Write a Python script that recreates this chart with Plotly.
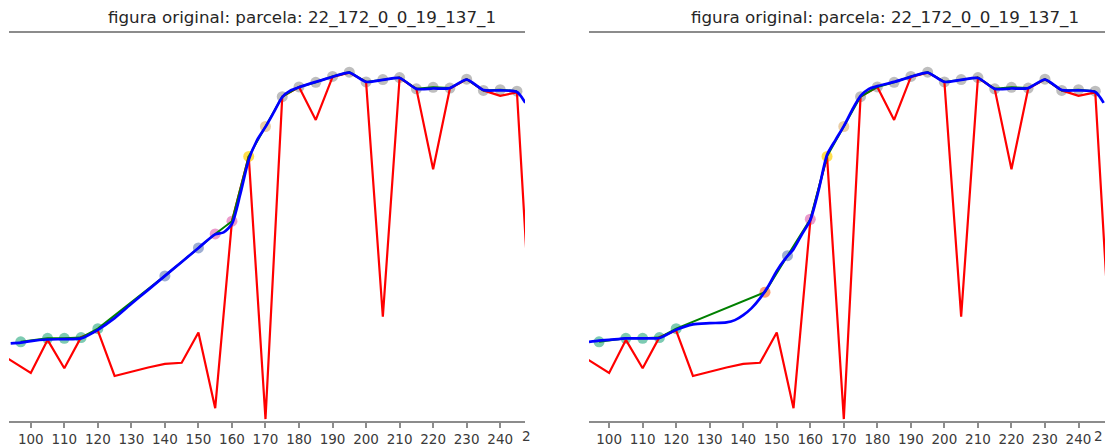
import plotly.graph_objects as go

# ---------------- data ----------------
title_text = "figura original: parcela: 22_172_0_0_19_137_1"

# original series (red) - shared by both panels
red_x = [90, 100, 105, 110, 115, 120, 125, 130, 135, 140, 145, 150, 155, 160, 165, 170,
         175, 180, 185, 190, 195, 200, 205, 210, 215, 220, 225, 230, 235, 240, 245, 250]
red_y = [0.178, 0.124, 0.209, 0.136, 0.216, 0.233, 0.116, 0.127, 0.138, 0.147, 0.150, 0.228,
         0.033, 0.515, 0.682, 0.005, 0.836, 0.861, 0.776, 0.887, 0.898, 0.874, 0.269, 0.884,
         0.856, 0.649, 0.857, 0.881, 0.852, 0.838, 0.847, 0.111]

# valid points (dots + green line), left panel
left_pts_x = [97, 105, 110, 115, 120, 140, 150, 155, 160, 165, 170, 175, 180, 185, 190,
              195, 200, 205, 210, 215, 220, 225, 230, 235, 240, 245]
left_pts_y = [0.204, 0.213, 0.213, 0.215, 0.238, 0.374, 0.446, 0.482, 0.515, 0.682, 0.759,
              0.836, 0.861, 0.873, 0.888, 0.899, 0.874, 0.880, 0.885, 0.856, 0.860, 0.858,
              0.881, 0.852, 0.854, 0.850]
left_pts_cls = ["a", "a", "a", "a", "a", "b", "b", "c", "c", "d", "e", "f", "f", "f", "f",
                "f", "f", "f", "f", "f", "f", "f", "f", "f", "f", "f"]

# valid points (dots + green line), right panel
right_pts_x = [97, 105, 110, 115, 120, 146.5, 153.2, 160, 165, 170, 175, 180, 185, 190,
               195, 200, 205, 210, 215, 220, 225, 230, 235, 240, 245]
right_pts_y = [0.204, 0.213, 0.213, 0.215, 0.238, 0.332, 0.426, 0.520, 0.682, 0.759, 0.836,
               0.861, 0.873, 0.888, 0.899, 0.874, 0.880, 0.885, 0.856, 0.860, 0.858, 0.881,
               0.852, 0.854, 0.850]
right_pts_cls = ["a", "a", "a", "a", "a", "g", "b", "c", "d", "e", "f", "f", "f", "f", "f",
                 "f", "f", "f", "f", "f", "f", "f", "f", "f", "f"]

# smoothed curves (blue)
left_blue_x = [94, 97, 100, 105, 110, 115, 120, 125, 130, 135, 140, 145, 150, 155, 157.5, 160,
               162.5, 165, 167.5, 170, 172.5, 175, 177.5, 180, 185, 190, 195, 200, 205, 210,
               215, 220, 225, 230, 235, 240, 245, 247.5]
left_blue_y = [0.200, 0.202, 0.206, 0.210, 0.211, 0.213, 0.235, 0.265, 0.302, 0.338, 0.374,
               0.410, 0.446, 0.481, 0.486, 0.508, 0.585, 0.673, 0.724, 0.758, 0.796, 0.835,
               0.852, 0.860, 0.874, 0.887, 0.898, 0.874, 0.879, 0.884, 0.856, 0.857, 0.858,
               0.880, 0.853, 0.852, 0.848, 0.820]

right_blue_x = [94, 97, 100, 105, 110, 115, 120, 125, 130, 135, 137.5, 140, 142.5, 145, 147.5,
                150, 152.5, 155, 157.5, 160, 162.5, 165, 167.5, 170, 172.5, 175, 177.5, 180,
                185, 190, 195, 200, 205, 210, 215, 220, 225, 230, 235, 240, 245, 247.5]
right_blue_y = [0.204, 0.207, 0.209, 0.213, 0.213, 0.214, 0.235, 0.249, 0.252, 0.254, 0.260,
                0.273, 0.291, 0.316, 0.348, 0.387, 0.418, 0.443, 0.481, 0.518, 0.595, 0.686,
                0.724, 0.760, 0.802, 0.838, 0.856, 0.863, 0.874, 0.887, 0.898, 0.874, 0.879,
                0.884, 0.856, 0.857, 0.858, 0.880, 0.853, 0.852, 0.848, 0.820]

tick_vals = list(range(100, 250, 10))

class_colors = {"a": "#66c2a5", "b": "#8da0cb", "c": "#e78ac3", "d": "#ffd92f",
                "e": "#e5c494", "f": "#b3b3b3", "g": "#fc8d62"}

# ---------------- figure ----------------
fig = go.Figure()


def add_panel(fig, xa, ya, pts_x, pts_y, pts_cls, blue_x, blue_y):
    fig.add_trace(go.Scatter(
        x=pts_x, y=pts_y, mode="markers", xaxis=xa, yaxis=ya,
        marker=dict(size=11, color=[class_colors[c] for c in pts_cls], opacity=0.85,
                    line=dict(width=0)),
        showlegend=False, hoverinfo="skip"))
    fig.add_trace(go.Scatter(
        x=red_x, y=red_y, mode="lines", xaxis=xa, yaxis=ya,
        line=dict(color="#ff0000", width=2.2), showlegend=False))
    fig.add_trace(go.Scatter(
        x=pts_x, y=pts_y, mode="lines", xaxis=xa, yaxis=ya,
        line=dict(color="#008000", width=2), showlegend=False))
    fig.add_trace(go.Scatter(
        x=blue_x, y=blue_y, mode="lines", xaxis=xa, yaxis=ya,
        line=dict(color="#0000ff", width=2.7, shape="spline", smoothing=0.7),
        showlegend=False))


add_panel(fig, "x", "y", left_pts_x, left_pts_y, left_pts_cls, left_blue_x, left_blue_y)
add_panel(fig, "x2", "y2", right_pts_x, right_pts_y, right_pts_cls, right_blue_x, right_blue_y)

W, H = 1105, 447
axis_common = dict(
    showline=True, mirror=True, linecolor="#8c8c8c", linewidth=2,
    ticks="outside", ticklen=5, tickwidth=1.5, tickcolor="#8c8c8c",
    tickvals=tick_vals, showgrid=False, zeroline=False,
    tickfont=dict(family="DejaVu Sans", size=13.5, color="#3a3a3a"),
)
yaxis_common = dict(range=[0, 1], visible=False, showgrid=False, zeroline=False)

fig.update_layout(
    width=W, height=H,
    margin=dict(l=0, r=0, t=33, b=26),
    paper_bgcolor="white", plot_bgcolor="white",
    xaxis=dict(domain=[9 / W, 525 / W], range=[93.5, 247.4], anchor="y", **axis_common),
    yaxis=dict(anchor="x", **yaxis_common),
    xaxis2=dict(domain=[589 / W, 1.0], range=[94.0, 247.9], anchor="y2", **axis_common),
    yaxis2=dict(anchor="x2", **yaxis_common),
)

plot_h = H - 33 - 26
for cx in [302 / W, 884.5 / W]:
    fig.add_annotation(text=title_text, xref="paper", yref="paper",
                       x=cx, y=1 + (33 - 18) / plot_h, xanchor="center", yanchor="middle",
                       showarrow=False,
                       font=dict(family="DejaVu Sans", size=16.7, color="#262626"))

# partially visible "250" tick labels at the panel edges
for px in [520, 1092]:
    fig.add_annotation(text="2", xref="paper", yref="paper",
                       x=px / W, y=-(435.5 - 421) / plot_h, xanchor="left", yanchor="middle",
                       showarrow=False,
                       font=dict(family="DejaVu Sans", size=13.5, color="#3a3a3a"))

fig.write_html("out.html")
